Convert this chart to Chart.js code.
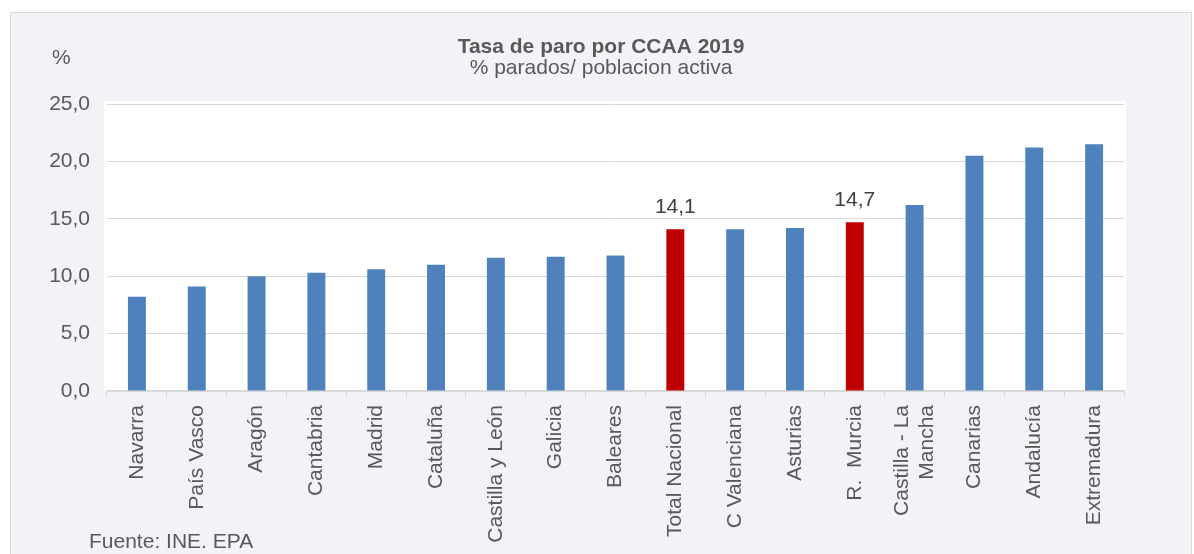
<!DOCTYPE html>
<html>
<head>
<meta charset="utf-8">
<script src="https://cdn.jsdelivr.net/npm/chart.js@4"></script>
<style>
  html, body { margin: 0; padding: 0; background: #fff; overflow: hidden; }
  #wrap { position: relative; width: 1194px; height: 554px; }
</style>
</head>
<body>
<div id="wrap"><canvas id="paroChart"></canvas></div>
<script>
// --- DATOS ---
const regions = ['Navarra', 'País Vasco', 'Aragón', 'Cantabria', 'Madrid', 'Cataluña',
  'Castilla y León', 'Galicia', 'Baleares', 'Total Nacional', 'C Valenciana', 'Asturias',
  'R.  Murcia', ['Castilla - La', 'Mancha'], 'Canarias', 'Andalucía', 'Extremadura'];
const rates = [8.2, 9.1, 10.0, 10.3, 10.6, 11.0, 11.6, 11.7, 11.8, 14.1, 14.1, 14.2, 14.7, 16.2, 20.5, 21.2, 21.5];
const highlighted = ['Total Nacional', 'R.  Murcia'];
const yTicks = [0, 5, 10, 15, 20, 25];

const BLUE = '#4f81bd';
const RED = '#c00000';
const TEXT = '#595959';
const FONT = '"Liberation Sans", Arial, sans-serif';

const fmt = v => v.toFixed(1).replace('.', ',');
const isHighlighted = i => highlighted.includes(regions[i]);

Chart.defaults.font.family = FONT;
Chart.defaults.font.size = 21;
Chart.defaults.color = TEXT;

// fondo del panel + area de trazado blanca
const background = {
  id: 'background',
  beforeDraw(chart) {
    const { ctx, chartArea: a } = chart;
    ctx.save();
    ctx.fillStyle = '#fff';
    ctx.fillRect(0, 0, chart.width, chart.height);
    ctx.fillStyle = '#f2f3f7';
    ctx.fillRect(10, 12, 1182, 560);
    ctx.strokeStyle = '#d9d9d9';
    ctx.lineWidth = 1;
    ctx.strokeRect(10.5, 12.5, 1181, 560);
    ctx.fillStyle = '#fff';
    ctx.fillRect(a.left - 3, a.top - 3, a.right - a.left + 5, a.bottom - a.top + 3);
    ctx.restore();
  }
};

// centra las etiquetas de varias lineas sobre su categoria
const labelShift = {
  id: 'labelShift',
  beforeDraw(chart) {
    chart.scales.x.getLabelItems().forEach(item => {
      if (Array.isArray(item.label) && !item.shifted) {
        item.textOffset -= (item.label.length - 1) * item.font.lineHeight / 2;
        item.shifted = true;
      }
    });
  }
};

// valores sobre las barras destacadas, "%" y fuente
const extraText = {
  id: 'extraText',
  afterDatasetsDraw(chart) {
    const { ctx } = chart;
    const meta = chart.getDatasetMeta(0);
    ctx.save();
    ctx.font = '21px ' + FONT;
    ctx.textAlign = 'center';
    ctx.textBaseline = 'alphabetic';
    ctx.fillStyle = '#404040';
    rates.forEach((v, i) => {
      if (!isHighlighted(i)) return;
      const bar = meta.data[i];
      ctx.fillText(fmt(v), bar.x, bar.y - 16);
    });
    ctx.fillStyle = TEXT;
    ctx.textAlign = 'left';
    ctx.fillText('%', 52, 64);
    ctx.fillText('Fuente: INE. EPA', 89, 548);
    ctx.restore();
  }
};

new Chart(document.getElementById('paroChart'), {
  type: 'bar',
  data: {
    labels: regions,
    datasets: [{
      data: rates,
      backgroundColor: rates.map((v, i) => isHighlighted(i) ? RED : BLUE),
      barPercentage: 0.3,
      categoryPercentage: 1
    }]
  },
  options: {
    responsive: true,
    maintainAspectRatio: false,
    animation: false,
    layout: { padding: { left: 10, right: 2, top: 0, bottom: 0 } },
    plugins: {
      legend: { display: false },
      tooltip: { enabled: false },
      title: {
        display: true,
        text: 'Tasa de paro por CCAA 2019',
        color: TEXT,
        font: { size: 21, weight: 'bold', lineHeight: 1 },
        padding: { top: 36.5, bottom: 0 }
      },
      subtitle: {
        display: true,
        text: '% parados/ poblacion activa',
        color: TEXT,
        font: { size: 21, lineHeight: 1 },
        padding: { top: 0, bottom: 25.5 }
      }
    },
    scales: {
      x: {
        offset: true,
        grid: {
          display: true,
          offset: true,
          drawOnChartArea: false,
          drawTicks: true,
          tickLength: 6,
          color: '#d9d9d9'
        },
        border: { display: true, color: '#d9d9d9', width: 1.5 },
        ticks: {
          color: TEXT,
          font: { size: 21, lineHeight: 1.2 },
          minRotation: 90,
          maxRotation: 90,
          autoSkip: false,
          padding: 8
        },
        afterFit: s => { s.height = 163; }
      },
      y: {
        min: 0,
        max: 25,
        grid: { color: '#d9d9d9', lineWidth: 1, drawTicks: false },
        border: { display: false },
        ticks: { color: TEXT, padding: 17, callback: v => fmt(v) },
        afterBuildTicks: s => { s.ticks = yTicks.map(v => ({ value: v })); },
        afterFit: s => { s.width = 97; }
      },
      // eje vacio a la derecha para dejar el margen del panel
      yRight: {
        position: 'right',
        display: true,
        grid: { display: false },
        border: { display: false },
        ticks: { display: false },
        afterFit: s => { s.width = 68; }
      }
    }
  },
  plugins: [background, labelShift, extraText]
});
</script>
</body>
</html>
